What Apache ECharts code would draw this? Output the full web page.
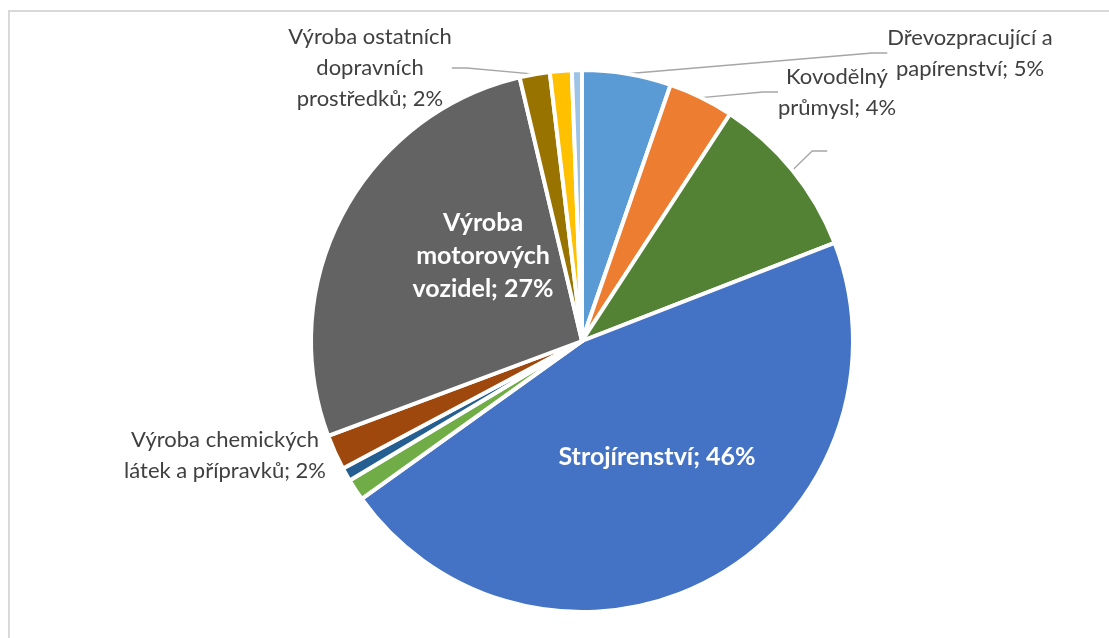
<!DOCTYPE html>
<html>
<head>
<meta charset="utf-8">
<script src="https://cdn.jsdelivr.net/npm/echarts@6/dist/echarts.min.js"></script>
<style>
  html, body { margin: 0; padding: 0; background: #fff; }
  #frame { position: absolute; left: 8px; top: 10px; width: 1200px; height: 700px; border: 2px solid #D9D9D9; }
  #chart { position: absolute; left: 0; top: 0; width: 1109px; height: 638px; }
</style>
</head>
<body>
<div id="frame"></div>
<div id="chart"></div>
<script>
  // odvětví (po směru hodinových ručiček od 12 h)
  const categories = [
    "Dřevozpracující a papírenství",
    "Kovodělný průmysl",
    "Hutnictví",
    "Strojírenství",
    "Elektrotechnika",
    "Výroba pryžových výrobků",
    "Výroba chemických látek a přípravků",
    "Výroba motorových vozidel",
    "Výroba ostatních dopravních prostředků",
    "Ostatní zpracovatelský průmysl",
    "Ostatní"
  ];
  const values = [5.3, 3.9, 9.9, 46.0, 1.3, 0.8, 2.1, 27.0, 1.8, 1.3, 0.6];
  const colors = ["#5B9BD5", "#ED7D31", "#548235", "#4472C4", "#70AD47", "#255E91",
                  "#9E480E", "#636363", "#997300", "#FFC000", "#9DC3E6"];

  // 'out' = venku s vodicí čarou, 'in' = uvnitř, 'side' = venku bez čáry, 'blank' = jen čára
  const labelKind = ["out", "out", "blank", "in", "none", "none", "side", "in", "out", "none", "none"];
  // max. počet znaků na řádek popisku
  const lineChars = [17, 11, 0, 30, 0, 0, 21, 12, 16, 0, 0];
  const labelPos = {
    0: [970, 53], 1: [837, 92], 2: [830, 151], 3: [657, 457],
    6: [225, 455], 7: [483, 256], 8: [370, 68]
  };

  function wrap(text, max) {
    const words = text.split(" ");
    const lines = [];
    let cur = "";
    words.forEach(w => {
      if (cur && (cur + " " + w).length > max) {
        lines.push(cur);
        cur = w;
      } else {
        cur = cur ? cur + " " + w : w;
      }
    });
    if (cur) lines.push(cur);
    return lines.join("\n");
  }

  const chart = echarts.init(document.getElementById("chart"));

  const data = categories.map((name, i) => {
    const kind = labelKind[i];
    const item = { name: name, value: values[i], itemStyle: { color: colors[i] } };
    if (kind === "none") {
      item.label = { show: false };
      item.labelLine = { show: false };
    } else if (kind === "in") {
      item.label = {
        show: true, position: "inside", color: "#fff", fontWeight: "bold",
        fontSize: 25, lineHeight: 33
      };
      item.labelLine = { show: false };
    } else if (kind === "side") {
      item.label = { show: true };
      item.labelLine = { show: false };
    } else if (kind === "blank") {
      item.label = { show: true, formatter: " " };
    } else {
      item.label = { show: true };
    }
    return item;
  });

  const option = {
    animation: false,
    series: [
      {
        type: "pie",
        center: [582, 341],
        radius: 271,
        startAngle: 90,
        percentPrecision: 0,
        avoidLabelOverlap: false,
        itemStyle: { borderColor: "#fff", borderWidth: 4 },
        label: {
          formatter: p => wrap(p.name + "; " + p.percent + "%", lineChars[p.dataIndex]),
          fontFamily: "Lato",
          fontSize: 22,
          lineHeight: 31,
          color: "#404040",
          align: "center"
        },
        labelLine: {
          show: true,
          length: 20,
          length2: 15,
          lineStyle: { color: "#A6A6A6", width: 1.3 }
        },
        labelLayout: function (params) {
          const p = labelPos[params.dataIndex];
          if (!p) return {};
          return { x: p[0], y: p[1], align: "center", verticalAlign: "middle" };
        },
        emphasis: { disabled: true },
        data: data
      }
    ]
  };

  chart.setOption(option);
</script>
</body>
</html>
